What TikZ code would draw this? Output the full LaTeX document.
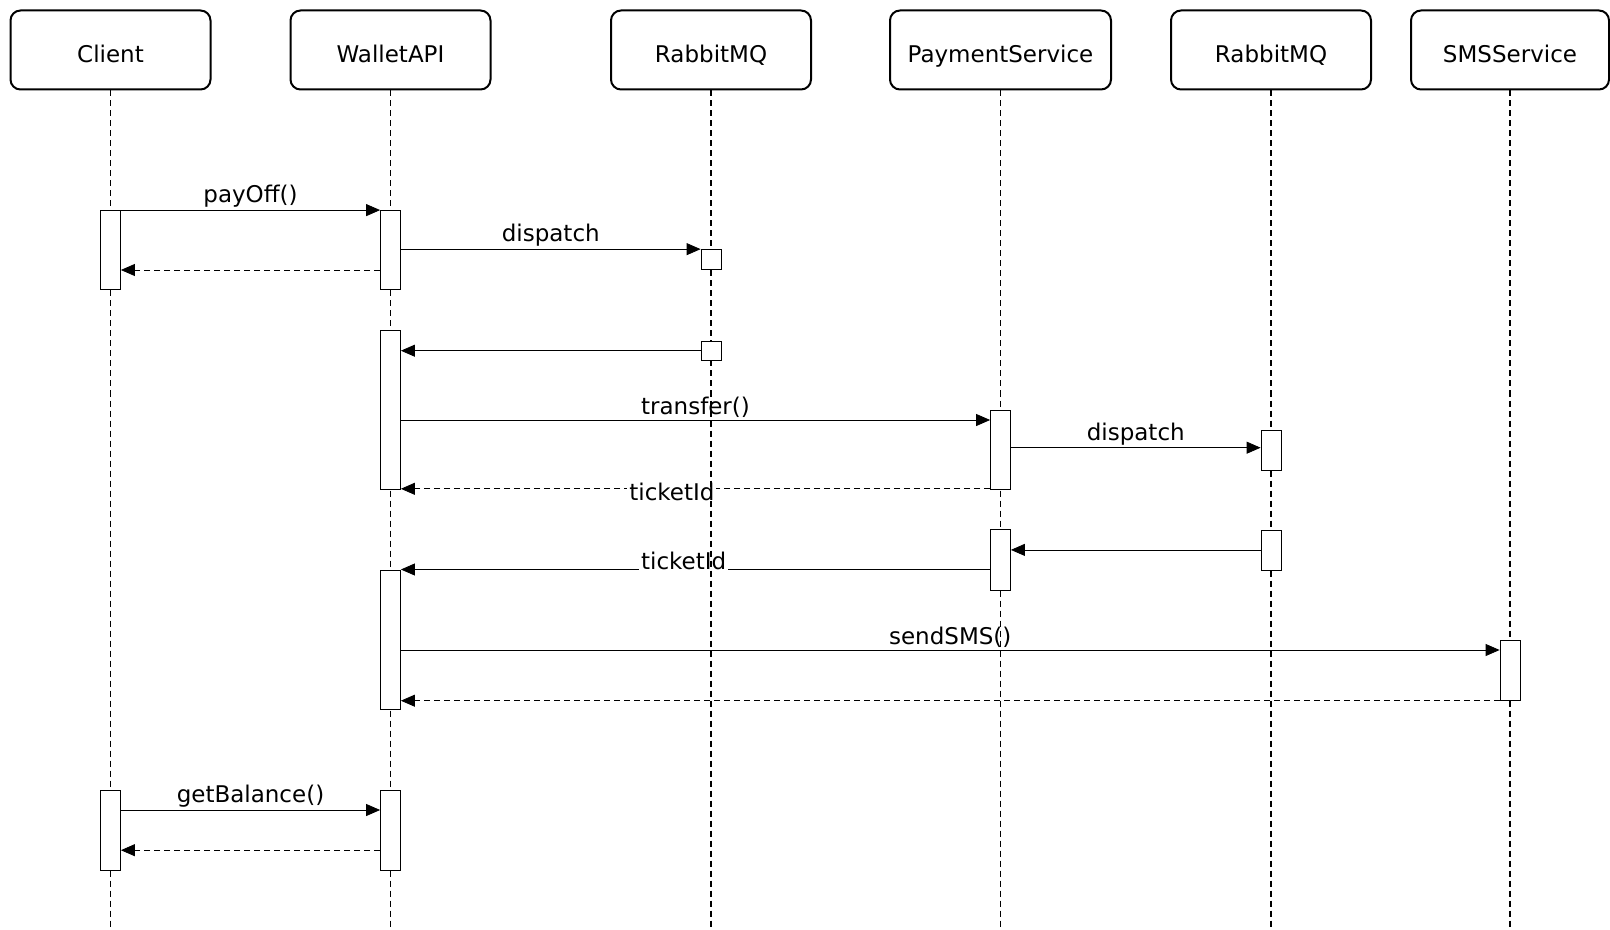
\documentclass[tikz,border=0pt]{standalone}
\usepackage{fontspec}
\setmainfont{DejaVu Sans}
\usetikzlibrary{arrows.meta}

\pgfdeclarelayer{msgs}
\pgfdeclarelayer{lines}
\pgfsetlayers{msgs,lines,main}

\tikzset{
    head/.style={draw, rounded corners=5pt, fill=white, minimum width=100pt, minimum height=39.5pt, text height=14.3pt, text depth=2pt, font=\fontsize{11.5}{13}\selectfont},
    act/.style={draw, fill=white, minimum width=10pt, inner sep=0pt},
    life/.style={line width=0.8pt, dash pattern=on 3pt off 2pt},
    msg/.style={-{Triangle[length=7pt,width=6pt]}},
    ret/.style={msg, dash pattern=on 3pt off 2pt},
    lbl/.style={above, inner sep=1pt, font=\fontsize{11.5}{13}\selectfont},
    tag/.style={anchor=base, fill=white, inner sep=1pt, font=\fontsize{11.5}{13}\selectfont},
}

\begin{document}
\begin{tikzpicture}[x=0.5pt, y=-0.5pt, line width=1pt]
    \useasboundingbox (0,0) rectangle (1610,930);

    % Participants
    \node[head] (client) at (110.5,50) {Client};
    \node[head] (wallet) at (390.5,50) {WalletAPI};
    \node[head] (rabbit1) at (711,50) {RabbitMQ};
    \node[head, minimum width=110.5pt] (payment) at (1000.5,50) {PaymentService};
    \node[head] (rabbit2) at (1271,50) {RabbitMQ};
    \node[head, minimum width=99pt] (sms) at (1510,50) {SMSService};

    % Lifelines
    \coordinate (bottom) at (0,930);
    \begin{pgfonlayer}{lines}
        \foreach \n in {client,wallet,rabbit1,payment,rabbit2,sms}
            \draw[life] (\n.south) -- (\n.south |- bottom);
    \end{pgfonlayer}

    % Activations
    \node[act, minimum height=39.5pt] (c1) at (client |- 0,250) {};
    \node[act, minimum height=39.5pt] (w1) at (wallet |- 0,250) {};
    \node[act, minimum height=9.75pt] (r1a) at (rabbit1 |- 0,259.3) {};
    \node[act, minimum height=9.75pt] (r1b) at (rabbit1 |- 0,350.7) {};
    \node[act, minimum height=79.6pt] (w2) at (wallet |- 0,410.2) {};
    \node[act, minimum height=39.5pt] (p1) at (payment |- 0,450.3) {};
    \node[act, minimum height=20pt] (r2a) at (rabbit2 |- 0,450.3) {};
    \node[act, minimum height=20pt] (r2b) at (rabbit2 |- 0,549.9) {};
    \node[act, minimum height=30.3pt] (p2) at (payment |- 0,560.1) {};
    \node[act, minimum height=69.8pt] (w3) at (wallet |- 0,639.7) {};
    \node[act, minimum height=29.8pt] (s1) at (sms |- 0,670.5) {};
    \node[act, minimum height=40pt] (c2) at (client |- 0,830.7) {};
    \node[act, minimum height=40pt] (w4) at (wallet |- 0,830.7) {};

    % Message levels
    \coordinate (m1) at (0,270);
    \coordinate (m2) at (0,420);
    \coordinate (m3) at (0,447.7);
    \coordinate (m4) at (0,488.8);
    \coordinate (m5) at (0,650);
    \coordinate (m6) at (0,810);
    \coordinate (m7) at (0,850.2);

    % Messages
    \begin{pgfonlayer}{msgs}
        \draw[msg] (c1.north east) -- node[lbl] {payOff()} (w1.north west);
        \draw[msg] (w1.east |- r1a.north) -- node[lbl] {dispatch} (r1a.north west);
        \draw[ret] (w1.west |- m1) -- (c1.east |- m1);
        \draw[msg] (r1b.west) -- (w2.east |- r1b.west);
        \draw[msg] (w2.east |- m2) -- node[lbl] {transfer()} (p1.west |- m2);
        \draw[msg] (p1.east |- m3) -- node[lbl] {dispatch} (r2a.west |- m3);
        \draw[ret] (p1.west |- m4) -- node[tag, pos=0.54, yshift=-6pt] {ticketId} (w2.east |- m4);
        \draw[msg] (r2b.west) -- (p2.east |- r2b.west);
        \draw[msg] (p2.west |- w3.north) -- node[tag, pos=0.52] {ticketId} (w3.north east);
        \draw[msg] (w3.east |- m5) -- node[lbl] {sendSMS()} (s1.west |- m5);
        \draw[ret] (s1.south west) -- (w3.east |- s1.south);
        \draw[msg] (c2.east |- m6) -- node[lbl] {getBalance()} (w4.west |- m6);
        \draw[ret] (w4.west |- m7) -- (c2.east |- m7);
    \end{pgfonlayer}
\end{tikzpicture}
\end{document}
